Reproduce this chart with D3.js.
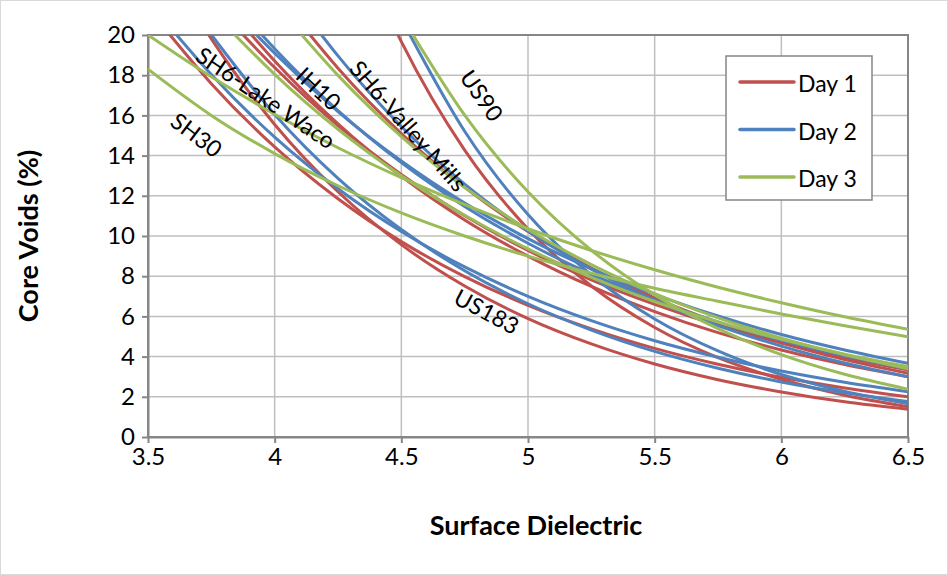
<!DOCTYPE html>
<html>
<head>
<meta charset="utf-8">
<script src="https://cdn.jsdelivr.net/npm/d3@7"></script>
<style>
  html, body { margin: 0; padding: 0; background: #fff; }
  svg { display: block; font-family: Lato, "Open Sans", "Liberation Sans", sans-serif; }
</style>
</head>
<body>
<svg id="chart" width="948" height="575"></svg>
<script>
// Axis ticks
const xTickValues = [3.5, 4, 4.5, 5, 5.5, 6, 6.5];
const yTickValues = [0, 2, 4, 6, 8, 10, 12, 14, 16, 18, 20];

// Fitted core-void curves per test day: [surface dielectric, core voids %]
const day1Curves = [
  [[3.587, 20], [3.75, 17.58], [4.0, 14.43], [4.25, 11.85], [4.5, 9.72], [4.75, 7.98], [5.0, 6.55], [5.25, 5.38], [5.5, 4.41], [5.75, 3.62], [6.0, 2.97], [6.25, 2.44], [6.5, 2.00]],
  [[3.74, 20], [3.75, 19.81], [4.0, 15.55], [4.25, 12.20], [4.5, 9.57], [4.75, 7.51], [5.0, 5.89], [5.25, 4.63], [5.5, 3.63], [5.75, 2.85], [6.0, 2.24], [6.25, 1.75], [6.5, 1.38]],
  [[3.876, 20], [4.0, 18.38], [4.25, 15.49], [4.5, 13.06], [4.75, 11.01], [5.0, 9.28], [5.25, 7.82], [5.5, 6.60], [5.75, 5.56], [6.0, 4.69], [6.25, 3.95], [6.5, 3.33]],
  [[3.909, 20], [4.0, 18.71], [4.25, 15.58], [4.5, 12.97], [4.75, 10.80], [5.0, 9.00], [5.25, 7.49], [5.5, 6.24], [5.75, 5.19], [6.0, 4.33], [6.25, 3.60], [6.5, 3.00]],
  [[4.14, 20], [4.25, 18.35], [4.5, 15.10], [4.75, 12.42], [5.0, 10.22], [5.25, 8.41], [5.5, 6.92], [5.75, 5.69], [6.0, 4.68], [6.25, 3.85], [6.5, 3.17]],
  [[4.487, 20], [4.5, 19.67], [4.75, 14.27], [5.0, 10.35], [5.25, 7.51], [5.5, 5.45], [5.75, 3.95], [6.0, 2.87], [6.25, 2.08], [6.5, 1.51]]
];
const day2Curves = [
  [[3.613, 20], [3.75, 18.03], [4.0, 14.92], [4.25, 12.35], [4.5, 10.22], [4.75, 8.46], [5.0, 7.00], [5.25, 5.79], [5.5, 4.79], [5.75, 3.97], [6.0, 3.28], [6.25, 2.72], [6.5, 2.25]],
  [[3.751, 20], [4.0, 16.05], [4.25, 12.87], [4.5, 10.32], [4.75, 8.27], [5.0, 6.63], [5.25, 5.32], [5.5, 4.26], [5.75, 3.42], [6.0, 2.74], [6.25, 2.20], [6.5, 1.76]],
  [[3.929, 20], [4.0, 19.09], [4.25, 16.19], [4.5, 13.73], [4.75, 11.64], [5.0, 9.87], [5.25, 8.37], [5.5, 7.10], [5.75, 6.02], [6.0, 5.10], [6.25, 4.33], [6.5, 3.67]],
  [[3.95, 20], [4.0, 19.32], [4.25, 16.24], [4.5, 13.65], [4.75, 11.47], [5.0, 9.64], [5.25, 8.10], [5.5, 6.81], [5.75, 5.72], [6.0, 4.81], [6.25, 4.04], [6.5, 3.40]],
  [[4.185, 20], [4.25, 18.96], [4.5, 15.45], [4.75, 12.58], [5.0, 10.25], [5.25, 8.35], [5.5, 6.80], [5.75, 5.54], [6.0, 4.52], [6.25, 3.68], [6.5, 3.00]],
  [[4.534, 20], [4.75, 15.21], [5.0, 11.07], [5.25, 8.06], [5.5, 5.87], [5.75, 4.28], [6.0, 3.11], [6.25, 2.27], [6.5, 1.65]]
];
const day3Curves = [
  [[3.5, 20], [3.75, 17.92], [4.0, 16.06], [4.25, 14.39], [4.5, 12.90], [4.75, 11.56], [5.0, 10.36], [5.25, 9.28], [5.5, 8.32], [5.75, 7.45], [6.0, 6.68], [6.25, 5.98], [6.5, 5.36]],
  [[3.5, 18.3], [3.75, 16.0], [4.0, 14.1], [4.25, 12.5], [4.5, 11.15], [4.75, 10.0], [5.0, 9.0], [5.25, 8.15], [5.5, 7.4], [5.75, 6.75], [6.0, 6.12], [6.25, 5.53], [6.5, 4.99]],
  [[3.843, 20], [4.0, 18.04], [4.25, 15.31], [4.5, 13.00], [4.75, 11.03], [5.0, 9.36], [5.25, 7.94], [5.5, 6.74], [5.75, 5.72], [6.0, 4.86], [6.25, 4.12], [6.5, 3.50]],
  [[4.107, 20], [4.25, 17.99], [4.5, 14.95], [4.75, 12.42], [5.0, 10.32], [5.25, 8.58], [5.5, 7.13], [5.75, 5.93], [6.0, 4.92], [6.25, 4.09], [6.5, 3.40]],
  [[4.546, 20], [4.75, 16.01], [5.0, 12.20], [5.25, 9.29], [5.5, 7.07], [5.75, 5.39], [6.0, 4.10], [6.25, 3.12], [6.5, 2.38]]
];

const seriesNames = ["Day 1", "Day 2", "Day 3"];
const seriesColors = ["#c0504d", "#4f81bd", "#9bbb59"];
const seriesCurves = [day1Curves, day2Curves, day3Curves];

// Site labels placed along the curves: [text, dielectric, voids, angle]
const siteLabels = [
  ["SH6-Lake Waco", 3.966, 16.9, 34],
  ["SH30", 3.693, 15.05, 37],
  ["IH10", 4.175, 17.35, 43],
  ["SH6-Valley Mills", 4.53, 15.5, 49],
  ["US90", 4.819, 17.0, 55],
  ["US183", 4.838, 6.27, 28]
];

const svg = d3.select("#chart");
const W = 948, H = 575;
const plot = { left: 148, right: 908, top: 35, bottom: 437 };

// Outer chart frame
svg.append("rect")
  .attr("x", 0.5).attr("y", 0.5).attr("width", W - 1).attr("height", H - 1)
  .attr("fill", "#fff").attr("stroke", "#d9d9d9");

const x = d3.scaleLinear().domain([3.5, 6.5]).range([plot.left, plot.right]);
const y = d3.scaleLinear().domain([0, 20]).range([plot.bottom, plot.top]);

// Gridlines
const grid = svg.append("g").attr("stroke", "#bfbfbf").attr("stroke-width", 1.5);
grid.selectAll("line.h").data(yTickValues).join("line")
  .attr("x1", plot.left).attr("x2", plot.right)
  .attr("y1", d => y(d)).attr("y2", d => y(d));
grid.selectAll("line.v").data(xTickValues).join("line")
  .attr("y1", plot.top).attr("y2", plot.bottom)
  .attr("x1", d => x(d)).attr("x2", d => x(d));

// Plot-area border
svg.append("rect")
  .attr("x", plot.left).attr("y", plot.top)
  .attr("width", plot.right - plot.left).attr("height", plot.bottom - plot.top)
  .attr("fill", "none").attr("stroke", "#868686").attr("stroke-width", 2);

// Axes
const xAxis = svg.append("g")
  .attr("transform", `translate(0,${plot.bottom})`)
  .call(d3.axisBottom(x).tickValues(xTickValues).tickSize(6).tickSizeOuter(0).tickPadding(5)
    .tickFormat(d3.format("")));
const yAxis = svg.append("g")
  .attr("transform", `translate(${plot.left},0)`)
  .call(d3.axisLeft(y).tickValues(yTickValues).tickSize(6).tickSizeOuter(0).tickPadding(7));
[xAxis, yAxis].forEach(a => {
  a.select(".domain").attr("stroke", "#868686").attr("stroke-width", 2);
  a.selectAll(".tick line").attr("stroke", "#868686").attr("stroke-width", 2);
  a.selectAll(".tick text").attr("fill", "#000").attr("font-size", 24)
    .attr("font-family", "Lato, 'Open Sans', sans-serif");
});

// Axis titles
svg.append("text")
  .attr("x", (plot.left + plot.right) / 2 + 8).attr("y", 535)
  .attr("text-anchor", "middle").attr("font-size", 27).attr("font-weight", "bold")
  .text("Surface Dielectric");
svg.append("text")
  .attr("transform", `translate(38,${(plot.top + plot.bottom) / 2}) rotate(-90)`)
  .attr("text-anchor", "middle").attr("font-size", 27).attr("font-weight", "bold")
  .text("Core Voids (%)");

// Curves
svg.append("clipPath").attr("id", "plotClip")
  .append("rect").attr("x", plot.left).attr("y", plot.top)
  .attr("width", plot.right - plot.left).attr("height", plot.bottom - plot.top);

const line = d3.line().x(d => x(d[0])).y(d => y(d[1])).curve(d3.curveMonotoneX);
const curvesG = svg.append("g").attr("clip-path", "url(#plotClip)");
seriesCurves.forEach((curves, i) => {
  curvesG.append("g").selectAll("path").data(curves).join("path")
    .attr("d", line)
    .attr("fill", "none")
    .attr("stroke", seriesColors[i])
    .attr("stroke-width", 3)
    .attr("stroke-linecap", "round");
});

// Site labels
svg.append("g").selectAll("text").data(siteLabels).join("text")
  .attr("transform", d => `translate(${x(d[1])},${y(d[2])}) rotate(${d[3]})`)
  .attr("text-anchor", "middle").attr("dominant-baseline", "central")
  .attr("font-size", 23).attr("fill", "#000")
  .text(d => d[0]);

// Legend
const legend = svg.append("g");
legend.append("rect")
  .attr("x", 726).attr("y", 56).attr("width", 146).attr("height", 144)
  .attr("fill", "#fff").attr("stroke", "#868686").attr("stroke-width", 1.5);
const items = legend.selectAll("g.item").data(seriesNames).join("g")
  .attr("transform", (d, i) => `translate(740,${82 + i * 47.5})`);
items.append("line")
  .attr("x1", 0).attr("x2", 54).attr("y1", 0).attr("y2", 0)
  .attr("stroke", (d, i) => seriesColors[i]).attr("stroke-width", 3.5)
  .attr("stroke-linecap", "round");
items.append("text")
  .attr("x", 58).attr("y", 1).attr("dominant-baseline", "central")
  .attr("font-size", 23).attr("fill", "#000")
  .text(d => d);
</script>
</body>
</html>
